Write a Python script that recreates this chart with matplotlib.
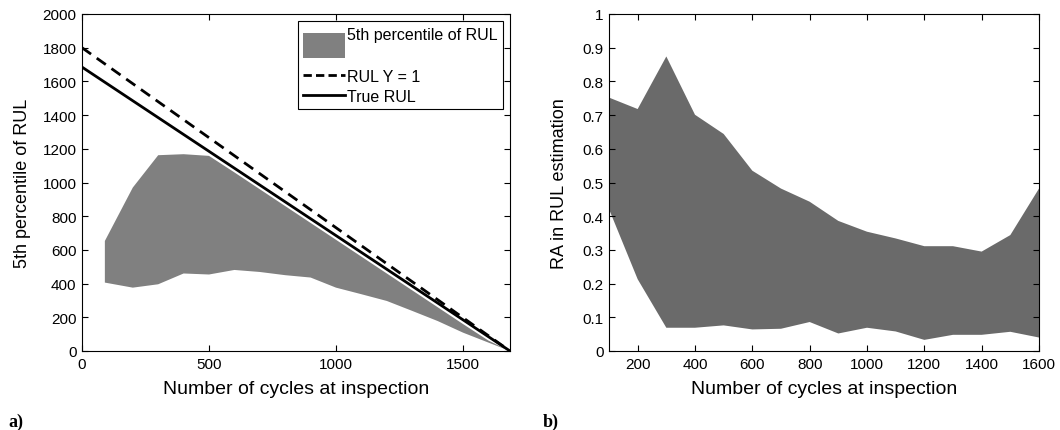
import matplotlib
matplotlib.use("Agg")
import matplotlib.pyplot as plt
from matplotlib.patches import Patch, Rectangle
from matplotlib.lines import Line2D
from matplotlib.legend_handler import HandlerPatch

plt.rcParams['font.family'] = ['Liberation Sans', 'DejaVu Sans']

# ---- Panel a data ----
cycles_a = [90, 200, 300, 400, 500, 600, 700, 800, 900, 1000, 1100, 1200, 1300, 1400, 1500, 1600, 1685]
p5_upper = [653, 970, 1162, 1168, 1158, 1060, 960, 860, 760, 660, 560, 460, 360, 260, 160, 62, 0]
p5_lower = [406, 376, 396, 460, 454, 481, 469, 450, 436, 376, 337, 297, 238, 178, 109, 50, 0]
line_x = [0, 1685]
rul_y1 = [1800, 0]
true_rul = [1685, 0]

# ---- Panel b data ----
cycles_b = [100, 200, 300, 400, 500, 600, 700, 800, 900, 1000, 1100, 1200, 1300, 1400, 1500, 1600]
ra_upper = [0.752, 0.718, 0.874, 0.701, 0.644, 0.535, 0.482, 0.443, 0.386, 0.354, 0.334, 0.311, 0.311, 0.295, 0.344, 0.482]
ra_lower = [0.421, 0.213, 0.069, 0.069, 0.076, 0.064, 0.066, 0.086, 0.052, 0.069, 0.058, 0.033, 0.048, 0.048, 0.057, 0.040]

W, H = 1060, 431
fig = plt.figure(figsize=(W/100, H/100), dpi=100)

def frac(x0, y0, x1, y1):
    return [x0/W, 1 - y1/H, (x1-x0)/W, (y1-y0)/H]

ax1 = fig.add_axes(frac(82, 15, 510, 352))
ax2 = fig.add_axes(frac(609, 15, 1039, 352))

ax1.fill_between(cycles_a, p5_lower, p5_upper, facecolor='#808080', edgecolor='none', linewidth=0)
ax1.plot(line_x, rul_y1, color='black', lw=2, ls=(0, (4, 2.5)))
ax1.plot(line_x, true_rul, color='black', lw=2)
ax1.set_xlim(0, 1685)
ax1.set_ylim(0, 2000)
ax1.set_xticks([0, 500, 1000, 1500])
ax1.set_yticks(range(0, 2001, 200))
ax1.set_xlabel('Number of cycles at inspection', fontsize=14, labelpad=7)
ax1.set_ylabel('5th percentile of RUL', fontsize=13, labelpad=8)


def tall_patch(legend, orig_handle, xdescent, ydescent, width, height, fontsize):
    cy = height / 2 - ydescent
    return Rectangle((-xdescent, cy - 0.75 * fontsize), width, 1.55 * fontsize)


handles = [Patch(facecolor='#808080', edgecolor='none'),
           Line2D([0], [0], color='black', lw=2, ls=(0, (3, 1.5))),
           Line2D([0], [0], color='black', lw=2)]
leg = ax1.legend(handles, ['5th percentile of RUL\n', 'RUL Y = 1', 'True RUL'],
                 loc='upper right', fontsize=11.5, frameon=True, fancybox=False,
                 edgecolor='black', framealpha=1, borderaxespad=0.45,
                 handlelength=2.6, handleheight=0.7, handletextpad=0.1, labelspacing=0.3,
                 borderpad=0.35,
                 handler_map={Patch: HandlerPatch(patch_func=tall_patch)})
leg.get_frame().set_linewidth(0.8)
leg.get_texts()[0].set_linespacing(1.6)

ax2.fill_between(cycles_b, ra_lower, ra_upper, facecolor='#6a6a6a', edgecolor='none', linewidth=0)
ax2.set_xlim(100, 1600)
ax2.set_ylim(0, 1)
ax2.set_xticks(range(200, 1601, 200))
ax2.set_yticks([i/10 for i in range(11)])
ax2.set_yticklabels(['0'] + ['0.%d' % i for i in range(1, 10)] + ['1'])
ax2.set_xlabel('Number of cycles at inspection', fontsize=14, labelpad=7)
ax2.set_ylabel('RA in RUL estimation', fontsize=13, labelpad=10)

for ax in (ax1, ax2):
    ax.tick_params(direction='in', top=True, right=True, labelsize=11, length=4, width=0.8, pad=4)
    for s in ax.spines.values():
        s.set_linewidth(0.8)

fig.text(8/W, 1 - 427/H, 'a)', fontsize=13, fontweight='bold', family='Liberation Serif', va='baseline')
fig.text(543/W, 1 - 427/H, 'b)', fontsize=13, fontweight='bold', family='Liberation Serif', va='baseline')

fig.savefig('out.png', dpi=100)
